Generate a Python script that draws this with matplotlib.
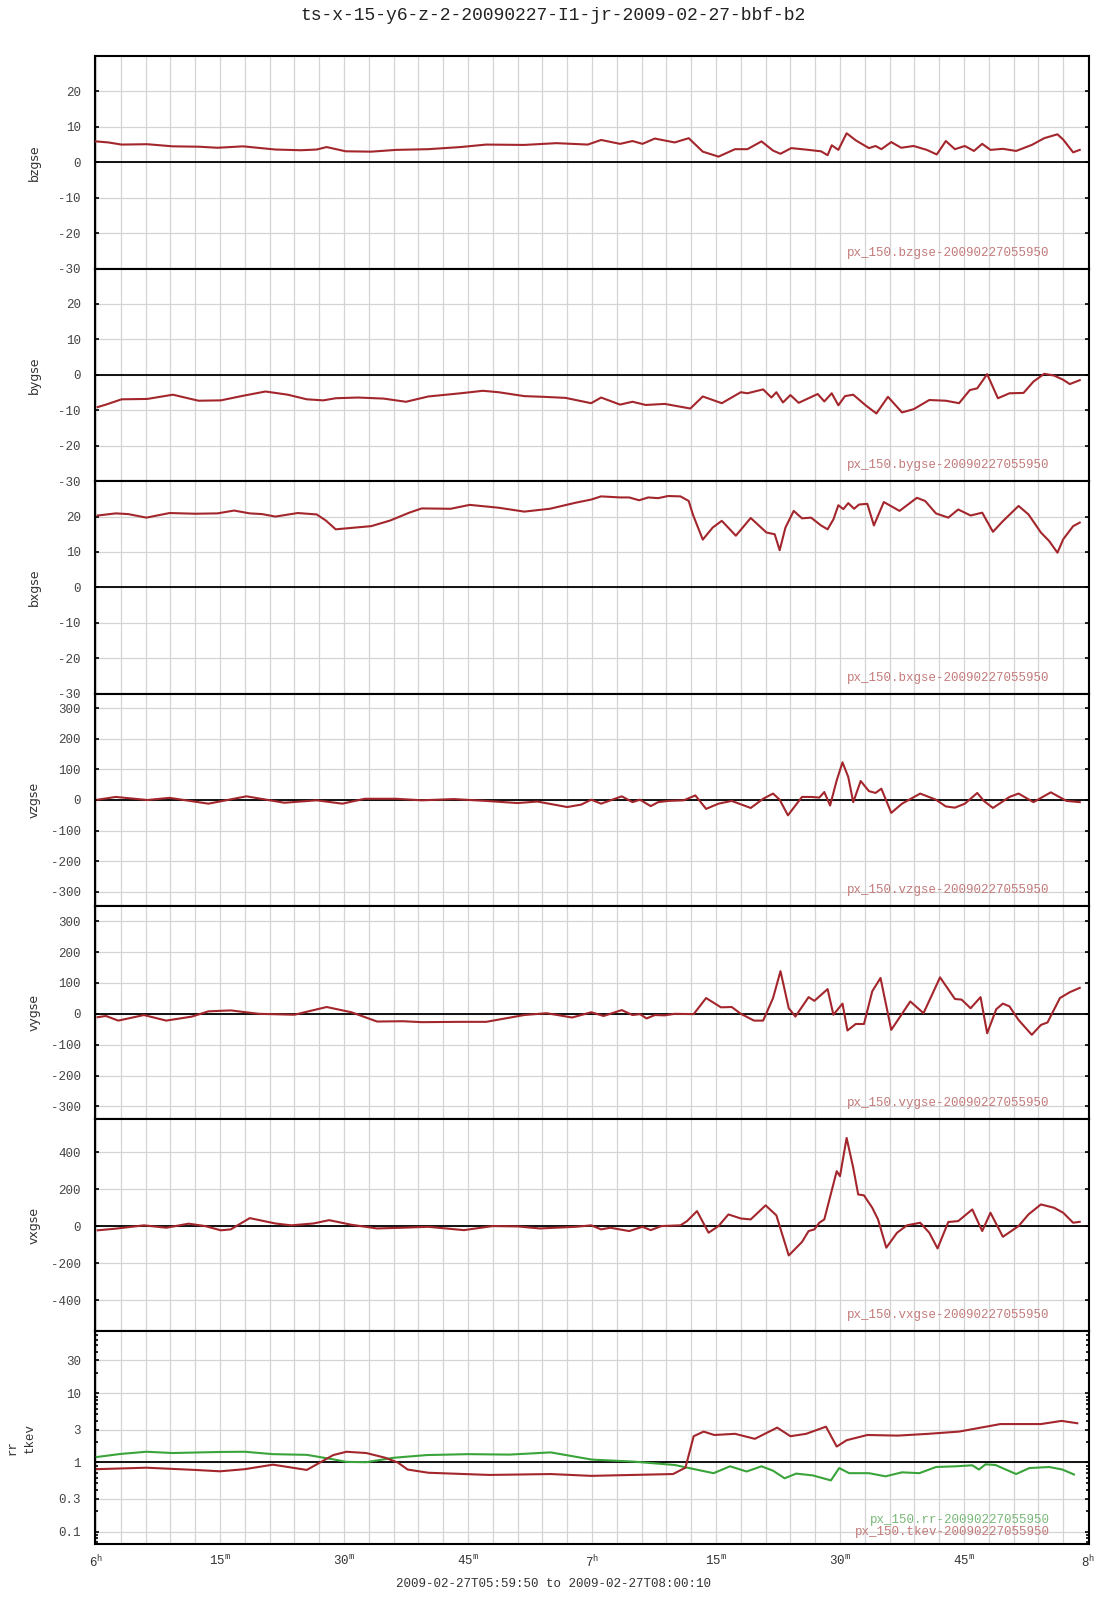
import matplotlib
matplotlib.use("Agg")
import matplotlib.pyplot as plt
from matplotlib.ticker import FixedLocator, MultipleLocator, FuncFormatter, LogLocator, NullFormatter

plt.rcParams['font.family'] = ['Liberation Mono', 'DejaVu Sans Mono']
plt.rcParams['mathtext.default'] = 'regular'
plt.rcParams['axes.unicode_minus'] = False

# ---- data (time in minutes after 06:00) ----
bz_t = [0, 1.5, 3.1, 6.2, 9.3, 12.4, 14.7, 17.8, 21.7, 24.8, 26.7, 27.9, 30.2, 33.3, 36.3, 40.2, 44.1,
        47.2, 51.8, 55.7, 59.5, 61.1, 63.4, 64.9, 66.1, 67.6, 70.0, 71.7, 73.4, 75.3, 77.3, 78.8,
        80.5, 81.9, 82.8, 84.1, 85.8, 87.7, 88.5, 89.0, 89.8, 90.8, 91.9, 93.5, 94.3, 95.0, 96.2,
        97.4, 98.9, 100.5, 101.7, 102.8, 103.9, 105.1, 106.2, 107.2, 108.2, 109.7, 111.3, 113.2,
        114.7, 116.3, 117.0, 118.2, 119.0]
bz_v = [5.9, 5.6, 5.0, 5.1, 4.5, 4.4, 4.1, 4.5, 3.6, 3.4, 3.6, 4.3, 3.1, 3.0, 3.5, 3.7, 4.3,
        5.0, 4.9, 5.4, 5.0, 6.3, 5.2, 6.0, 5.2, 6.7, 5.6, 6.8, 3.0, 1.6, 3.7, 3.7,
        5.9, 3.3, 2.4, 4.0, 3.6, 3.1, 2.0, 4.8, 3.5, 8.2, 6.2, 4.0, 4.6, 3.7, 5.7,
        4.1, 4.6, 3.5, 2.2, 6.0, 3.7, 4.6, 3.2, 5.2, 3.5, 3.8, 3.2, 4.9,
        6.8, 7.9, 6.4, 2.8, 3.5]

by_t = [0.2, 1.2, 3.1, 6.2, 9.3, 12.4, 15.1, 17.8, 20.5, 23.2, 25.5, 27.5, 29.0, 31.7, 34.8, 37.5,
        40.2, 44.1, 46.8, 48.7, 51.8, 54.1, 56.8, 59.9, 61.1, 63.4, 64.9, 66.5, 68.8, 71.9, 73.4,
        75.7, 78.0, 78.8, 80.7, 81.7, 82.3, 83.1, 84.0, 85.0, 87.3, 88.1, 89.0, 89.8, 90.6, 91.6,
        93.1, 94.4, 95.8, 97.5, 98.9, 100.8, 102.8, 104.4, 105.7, 106.6, 107.8, 109.1, 110.5,
        112.2, 113.4, 114.7, 115.9, 117.0, 117.8, 119.0]
by_v = [-9.1, -8.4, -6.9, -6.8, -5.6, -7.3, -7.2, -5.9, -4.7, -5.6, -6.9, -7.2, -6.6, -6.4, -6.7, -7.6,
        -6.1, -5.2, -4.5, -4.9, -6.0, -6.2, -6.5, -8.0, -6.4, -8.4, -7.6, -8.5, -8.2, -9.5, -6.1,
        -8.0, -4.9, -5.2, -4.1, -6.4, -4.9, -7.8, -5.7, -7.9, -5.4, -7.5, -5.2, -8.6, -6.0, -5.6,
        -8.6, -10.9, -6.2, -10.6, -9.7, -7.1, -7.3, -8.0, -4.3, -3.8, 0.2, -6.6, -5.2,
        -5.1, -1.9, 0.3, -0.2, -1.4, -2.6, -1.5]

bx_t = [0.2, 2.4, 3.9, 6.1, 8.9, 12.0, 14.7, 16.7, 18.6, 20.1, 21.7, 24.4, 26.7, 27.8, 29.0, 30.9,
        33.3, 35.6, 37.9, 39.4, 42.9, 45.2, 48.7, 51.8, 54.9, 58.0, 59.9, 61.1, 63.4, 64.5, 65.7,
        66.8, 68.0, 69.2, 70.7, 71.7, 72.2, 73.4, 74.6, 75.7, 77.4, 79.2, 81.1, 82.1, 82.7, 83.4,
        84.4, 85.4, 86.5, 87.7, 88.5, 89.2, 89.8, 90.4, 91.0, 91.7, 92.3, 93.3, 94.1, 95.3, 97.2,
        99.3, 100.3, 101.6, 103.1, 104.3, 105.8, 107.2, 108.5, 109.7, 111.6, 112.8, 114.3, 115.3,
        116.3, 117.0, 118.2, 119.0]
bx_v = [20.3, 20.9, 20.7, 19.7, 21.0, 20.8, 20.9, 21.7, 20.9, 20.7, 20.0, 21.0, 20.6, 18.9, 16.4, 16.8,
        17.3, 18.9, 21.1, 22.3, 22.2, 23.3, 22.5, 21.4, 22.2, 23.9, 24.8, 25.7, 25.4, 25.4, 24.6,
        25.4, 25.2, 25.8, 25.7, 24.4, 20.6, 13.5, 16.9, 18.8, 14.6, 19.6, 15.5, 15.0, 10.5, 16.9,
        21.6, 19.5, 19.7, 17.5, 16.4, 19.2, 23.2, 22.1, 23.8, 22.2, 23.4, 23.6, 17.5, 24.1, 21.6,
        25.3, 24.4, 20.9, 19.7, 22.0, 20.3, 21.1, 15.7, 18.7, 23.0, 20.6, 15.5, 13.1,
        9.8, 13.6, 17.3, 18.3]

vz_t = [0.2, 2.4, 6.2, 8.9, 13.6, 18.2, 22.8, 26.7, 29.8, 32.5, 36.3, 39.4, 43.3, 47.2, 51.0, 53.4,
        57.0, 58.7, 59.9, 61.1, 63.6, 64.9, 65.8, 67.1, 68.0, 69.2, 71.1, 72.5, 73.8, 75.3, 76.9,
        79.2, 80.7, 81.9, 82.7, 83.7, 85.4, 86.5, 87.5, 88.1, 88.8, 89.6, 90.3, 91.0, 91.6, 92.5,
        93.5, 94.3, 95.0, 96.2, 97.5, 99.7, 101.6, 102.8, 103.9, 105.1, 106.6, 107.4, 108.5, 110.5,
        111.6, 113.4, 115.5, 117.4, 119.0]
vz_v = [1, 10, 0, 7, -12, 12, -9, -1, -12, 4, 4, -1, 3, -3, -10, -5,
        -23, -15, 1, -12, 12, -7, 1, -20, -7, -3, -1, 15, -29, -12, -3,
        -26, 4, 21, 1, -50, 10, 10, 8, 26, -18, 64, 123, 75, -7, 62,
        29, 23, 37, -42, -12, 21, 1, -21, -25, -12, 23, -3, -26, 10,
        21, -7, 25, -3, -7]

vy_t = [0.2, 1.2, 2.7, 5.8, 8.5, 11.6, 13.6, 16.3, 19.7, 24.0, 27.9, 30.9, 34.0, 37.1, 39.4, 44.1,
        47.2, 51.8, 54.5, 57.6, 59.9, 61.4, 63.6, 64.9, 65.8, 66.6, 67.6, 68.8, 70.0, 72.3, 73.8,
        75.6, 76.9, 78.0, 79.6, 80.7, 81.9, 82.8, 83.8, 84.6, 86.2, 86.9, 88.5, 89.2, 90.3, 90.9,
        91.9, 92.9, 93.9, 94.9, 96.2, 98.5, 100.1, 102.1, 103.9, 104.7, 105.8, 107.0, 107.8, 108.9,
        109.7, 110.5, 111.6, 113.2, 114.3, 115.1, 116.6, 117.8, 119.0]
vy_v = [-11, -7, -22, -4, -22, -9, 8, 11, 0, -3, 22, 5, -25, -24, -27, -26,
        -26, -4, 2, -12, 5, -7, 12, -4, -1, -15, -4, -5, 0, -1, 51,
        21, 22, 0, -22, -22, 51, 138, 18, -9, 54, 42, 80, -3, 33, -54,
        -33, -33, 73, 116, -52, 40, 2, 118, 48, 46, 18, 54, -63, 15,
        33, 24, -20, -68, -36, -28, 51, 70, 84]

vx_t = [0.2, 2.4, 5.8, 8.5, 11.2, 13.2, 15.1, 16.3, 18.6, 21.7, 23.6, 26.3, 28.2, 30.9, 34.0, 37.1,
        40.2, 44.5, 48.0, 51.0, 53.7, 58.0, 59.9, 61.1, 62.2, 64.5, 66.1, 67.1, 68.4, 70.7, 71.5,
        72.7, 74.1, 75.3, 76.5, 78.0, 79.2, 81.0, 82.3, 82.7, 83.8, 85.4, 86.2, 86.9, 87.5, 88.1,
        89.6, 90.0, 90.8, 91.6, 92.2, 92.9, 93.9, 94.6, 95.6, 96.9, 98.1, 99.7, 100.8, 101.8,
        103.1, 104.3, 106.0, 107.2, 108.2, 109.7, 111.6, 112.8, 114.3, 115.9, 117.0, 118.2, 119.0]
vx_v = [-23, -14, 4, -9, 13, 0, -23, -18, 43, 14, 4, 14, 32, 7, -13, -9,
        -4, -22, 0, -2, -13, -4, 4, -18, -9, -27, -4, -22, 0, 4, 27,
        81, -36, 0, 63, 41, 36, 112, 58, 0, -159, -86, -27, -18, 18, 36,
        297, 270, 477, 315, 171, 166, 99, 36, -117, -36, 4, 18, -36, -121,
        22, 27, 90, -27, 72, -58, 0, 63, 117, 99, 72, 18, 23]

rr_t = [0.1, 3.0, 6.1, 9.3, 15.0, 18.0, 21.4, 25.5, 28.7, 30.3, 32.7, 36.0, 40.0, 45.0, 50.0, 55.0,
        60.0, 65.0, 70.0, 72.6, 74.7, 76.7, 78.7, 80.5, 81.9, 83.3, 84.7, 86.7, 88.9, 89.9, 91.1,
        93.5, 95.5, 97.5, 99.6, 101.6, 104.0, 106.0, 106.8, 107.6, 108.8, 111.3, 112.9, 115.3,
        116.9, 118.3]
rr_v = [1.20, 1.33, 1.43, 1.37, 1.42, 1.43, 1.32, 1.29, 1.11, 1.02, 1.01, 1.17, 1.28, 1.32, 1.30, 1.40,
        1.10, 1.03, 0.92, 0.79, 0.70, 0.88, 0.74, 0.88, 0.76, 0.59, 0.69, 0.65, 0.55, 0.83, 0.70,
        0.70, 0.63, 0.72, 0.70, 0.86, 0.88, 0.91, 0.79, 0.94, 0.92, 0.68, 0.83, 0.86,
        0.79, 0.67]

tkev_t = [0.1, 6.1, 12.0, 15.0, 18.0, 21.4, 25.5, 28.7, 30.3, 32.7, 35.0, 36.5, 37.7, 40.2, 47.6, 55.0,
          59.9, 64.9, 69.8, 71.3, 72.3, 73.5, 74.8, 77.3, 79.7, 82.4, 84.0, 85.9, 88.3, 89.6, 90.8,
          93.3, 97.0, 100.7, 104.4, 109.4, 114.3, 116.8, 118.7]
tkev_v = [0.80, 0.84, 0.78, 0.745, 0.80, 0.93, 0.78, 1.28, 1.43, 1.37, 1.17, 1.0, 0.79, 0.71, 0.66, 0.68,
          0.64, 0.66, 0.68, 0.84, 2.4, 2.8, 2.5, 2.6, 2.2, 3.2, 2.4, 2.6, 3.3, 1.7, 2.1,
          2.5, 2.45, 2.6, 2.8, 3.6, 3.6, 4.0, 3.7]

xtick_pos = [0, 15, 30, 45, 60, 75, 90, 105, 120]
xtick_labels = ['6$^{h}$', '15$^{m}$', '30$^{m}$', '45$^{m}$', '7$^{h}$',
                '15$^{m}$', '30$^{m}$', '45$^{m}$', '8$^{h}$']
xtick_marks = [9, 12, 24, 36, 39, 48, 60, 75, 84, 87, 99, 111]

red = '#a3262c'
green = '#3aa43a'
anno_red = '#c37a7a'
anno_green = '#78b878'

panels = [
    ('bzgse', bz_t, bz_v, (-30, 30), [-30, -20, -10, 0, 10, 20]),
    ('bygse', by_t, by_v, (-30, 30), [-30, -20, -10, 0, 10, 20]),
    ('bxgse', bx_t, bx_v, (-30, 30), [-30, -20, -10, 0, 10, 20]),
    ('vzgse', vz_t, vz_v, (-347, 347), [-300, -200, -100, 0, 100, 200, 300]),
    ('vygse', vy_t, vy_v, (-340, 348), [-300, -200, -100, 0, 100, 200, 300]),
    ('vxgse', vx_t, vx_v, (-570, 580), [-400, -200, 0, 200, 400]),
]

W, H = 1107, 1600
fig = plt.figure(figsize=(W / 100, H / 100), dpi=100)
axes = fig.subplots(7, 1, sharex=True,
                    gridspec_kw=dict(hspace=0, left=94.6 / W, right=1089.4 / W,
                                     top=1 - 56 / H, bottom=1 - 1544 / H))

xfmt = FuncFormatter(lambda v, p: xtick_labels[xtick_pos.index(int(round(v)))]
                     if int(round(v)) in xtick_pos and abs(v - round(v)) < 1e-6 else '')


def style(ax):
    ax.set_xlim(-10 / 60, 120 + 10 / 60)
    ax.xaxis.set_major_locator(MultipleLocator(3))
    ax.xaxis.set_major_formatter(xfmt)
    ax.xaxis.set_minor_locator(FixedLocator(xtick_marks))
    ax.tick_params(axis='x', which='major', length=0, pad=7, labelsize=9, labelcolor='#333333')
    ax.tick_params(axis='x', which='minor', length=4, width=1.2, direction='in', top=True, bottom=True)
    ax.tick_params(axis='y', which='major', length=3, width=1.2, direction='in', left=True,
                   right=True, labelsize=9, labelcolor='#444444', pad=10)
    ax.grid(True, which='major', color='#d4d4d4', lw=0.9)
    ax.set_axisbelow(True)
    for s in ax.spines.values():
        s.set_linewidth(1.5)
        s.set_color('black')


for ax, (name, t, v, lim, ticks) in zip(axes[:6], panels):
    style(ax)
    ax.set_ylim(*lim)
    ax.yaxis.set_major_locator(FixedLocator(ticks))
    ax.axhline(0, color='black', lw=1.3, zorder=2)
    ax.plot(t, v, color=red, lw=1.5, zorder=3, solid_joinstyle='round')
    ax.text(0.96, 0.075, 'px_150.' + name + '-20090227055950', transform=ax.transAxes,
            ha='right', va='center', fontsize=9, color=anno_red)
    bb = ax.get_position()
    fig.text(34 / W, (bb.y0 + bb.y1) / 2, name, rotation=90, ha='center', va='center',
             fontsize=9, color='#333333', family='DejaVu Sans')

ax = axes[6]
style(ax)
ax.set_yscale('log')
ax.set_ylim(0.066, 79)
ax.yaxis.set_major_locator(FixedLocator([0.1, 0.3, 1, 3, 10, 30]))
ax.yaxis.set_major_formatter(FuncFormatter(lambda v, p: '%g' % v))
ax.yaxis.set_minor_locator(LogLocator(base=10, subs=range(2, 10)))
ax.yaxis.set_minor_formatter(NullFormatter())
ax.tick_params(axis='y', which='minor', length=2, width=1.2, direction='in', left=True, right=True)
ax.axhline(1, color='black', lw=1.3, zorder=2)
ax.plot(rr_t, rr_v, color=green, lw=1.5, zorder=3, solid_joinstyle='round')
ax.plot(tkev_t, tkev_v, color=red, lw=1.5, zorder=3, solid_joinstyle='round')
ax.text(0.96, 0.115, 'px_150.rr-20090227055950', transform=ax.transAxes,
        ha='right', va='center', fontsize=9, color=anno_green)
ax.text(0.96, 0.055, 'px_150.tkev-20090227055950', transform=ax.transAxes,
        ha='right', va='center', fontsize=9, color=anno_red)
bb = ax.get_position()
fig.text(13 / W, (bb.y0 + bb.y1) / 2 - 0.006, 'rr', rotation=90, ha='center', va='center',
         fontsize=9, color='#333333')
fig.text(30 / W, (bb.y0 + bb.y1) / 2, 'tkev', rotation=90, ha='center', va='center',
         fontsize=9, color='#333333')

fig.text(0.5, 1 - 15 / H, 'ts-x-15-y6-z-2-20090227-I1-jr-2009-02-27-bbf-b2',
         ha='center', va='center', fontsize=13, color='#222222')
fig.text(0.5, 1 - 1584 / H, '2009-02-27T05:59:50 to 2009-02-27T08:00:10',
         ha='center', va='center', fontsize=9, color='#333333')

fig.savefig('out.png', dpi=100)
